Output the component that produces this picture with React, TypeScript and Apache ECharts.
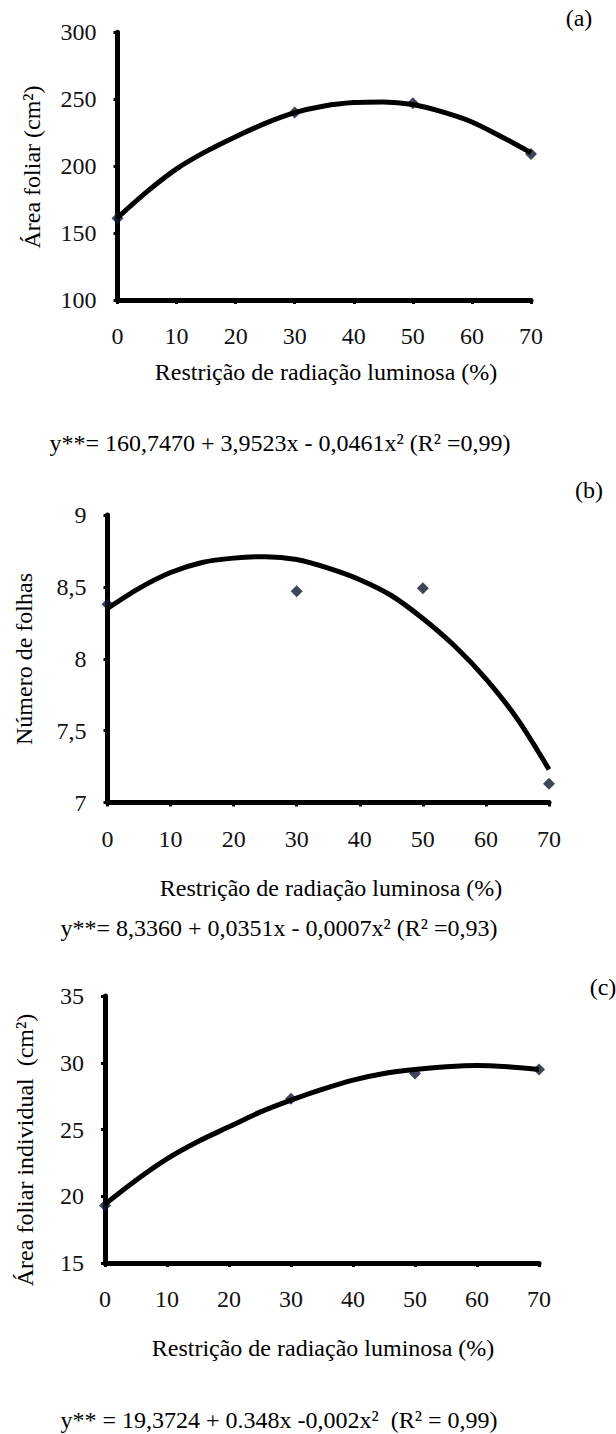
import React, { useEffect, useRef } from "react";
import * as echarts from "echarts";

// ---- data ----
const doses = [0, 30, 50, 70];
const fitX = [0, 5, 10, 15, 20, 25, 30, 35, 40, 45, 50, 55, 60, 65, 70];

// (a) leaf area (cm2)
const areaFoliar = [161, 240, 247, 209];
const fitAreaFoliar = [161.5, 181, 198, 211, 222, 232, 240, 245, 247.5, 248, 246, 240.5, 233, 222, 210];

// (b) number of leaves
const numeroFolhas = [8.38, 8.47, 8.49, 7.13];
const fitNumeroFolhas = [8.35, 8.49, 8.6, 8.67, 8.7, 8.71, 8.69, 8.63, 8.55, 8.44, 8.28, 8.09, 7.86, 7.58, 7.23];

// (c) individual leaf area (cm2)
const areaIndividual = [19.3, 27.3, 29.2, 29.5];
const fitAreaIndividual = [19.4, 21.2, 22.8, 24.1, 25.2, 26.3, 27.2, 28.0, 28.7, 29.2, 29.5, 29.7, 29.8, 29.7, 29.5];

const panelLabels = ["(a)", "(b)", "(c)"];
const yTitles = ["Área foliar (cm²)", "Número de folhas", "Área foliar individual  (cm²)"];
const xTitle = "Restrição de radiação luminosa (%)";
const equations = [
  "y**= 160,7470 + 3,9523x - 0,0461x² (R² =0,99)",
  "y**= 8,3360 + 0,0351x - 0,0007x² (R² =0,93)",
  "y** = 19,3724 + 0.348x -0,002x²  (R² = 0,99)",
];

const FONT = "'Liberation Serif', 'Times New Roman', serif";
const FS = 24;
const MARK = "#10182e";

const grids = [
  { left: 117.5, top: 32.3, width: 413.5, height: 267.7 },
  { left: 107.5, top: 515, width: 441.5, height: 287.5 },
  { left: 105, top: 996, width: 434, height: 267 },
];

const yRanges = [
  { min: 100, max: 300, interval: 50 },
  { min: 7, max: 9, interval: 0.5 },
  { min: 15, max: 35, interval: 5 },
];

export default function App() {
  const ref = useRef<HTMLDivElement>(null);

  useEffect(() => {
    if (!ref.current) return;
    const chart = echarts.init(ref.current, undefined, { renderer: "svg" });

    const axisLine = { show: true, onZero: false, lineStyle: { color: "#000", width: 5 } };
    const axisTick = { show: true, length: 4, lineStyle: { color: "#000", width: 3 } };
    const labelStyle = { color: "#111", fontFamily: FONT, fontSize: FS };

    const xAxis = grids.map((_, i) => ({
      type: "value",
      gridIndex: i,
      min: 0,
      max: 70,
      interval: 10,
      axisLine,
      axisTick,
      splitLine: { show: false },
      axisLabel: { ...labelStyle, margin: 24 },
    }));

    const yAxis = grids.map((_, i) => ({
      type: "value",
      gridIndex: i,
      min: yRanges[i].min,
      max: yRanges[i].max,
      interval: yRanges[i].interval,
      axisLine,
      axisTick,
      splitLine: { show: false },
      axisLabel: {
        ...labelStyle,
        margin: 21,
        formatter: (v: number) => String(v).replace(".", ","),
      },
    }));

    const pointSets = [areaFoliar, numeroFolhas, areaIndividual];
    const fitSets = [fitAreaFoliar, fitNumeroFolhas, fitAreaIndividual];

    const series: any[] = [];
    pointSets.forEach((pts, i) => {
      series.push({
        type: "scatter",
        xAxisIndex: i,
        yAxisIndex: i,
        symbol: "diamond",
        symbolSize: 12,
        itemStyle: { color: MARK },
        data: doses.map((d, k) => [d, pts[k]]),
        z: 2,
      });
      series.push({
        type: "line",
        xAxisIndex: i,
        yAxisIndex: i,
        smooth: 0.3,
        showSymbol: false,
        symbol: "none",
        lineStyle: { color: "#000", width: 5, cap: "butt", join: "round" },
        data: fitX.map((x, k) => [x, fitSets[i][k]]),
        z: 3,
      });
    });

    const textStyle = (text: string) => ({
      text,
      font: `${FS}px ${FONT}`,
      fill: "#000",
      textAlign: "center",
      textVerticalAlign: "middle",
    });

    const panelPos = [
      { x: 579, y: 18 },
      { x: 589, y: 490 },
      { x: 603, y: 987 },
    ];
    const yTitlePos = [
      { x: 32, y: 167 },
      { x: 24, y: 659 },
      { x: 25, y: 1150 },
    ];
    const xTitlePos = [
      { x: 326, y: 372 },
      { x: 331, y: 888 },
      { x: 323, y: 1348 },
    ];
    const eqPos = [
      { x: 280, y: 443 },
      { x: 279, y: 928 },
      { x: 279, y: 1420 },
    ];

    const graphic: any[] = [];
    for (let i = 0; i < 3; i++) {
      graphic.push({ type: "text", x: panelPos[i].x, y: panelPos[i].y, style: textStyle(panelLabels[i]) });
      graphic.push({
        type: "text",
        x: yTitlePos[i].x,
        y: yTitlePos[i].y,
        rotation: Math.PI / 2,
        style: textStyle(yTitles[i]),
      });
      graphic.push({ type: "text", x: xTitlePos[i].x, y: xTitlePos[i].y, style: textStyle(xTitle) });
      graphic.push({ type: "text", x: eqPos[i].x, y: eqPos[i].y, style: textStyle(equations[i]) });
    }

    chart.setOption({
      animation: false,
      backgroundColor: "#fff",
      grid: grids.map((g) => ({ ...g, containLabel: false })),
      xAxis,
      yAxis,
      series,
      graphic,
    });

    return () => chart.dispose();
  }, []);

  return (
    <div
      ref={ref}
      style={{ position: "absolute", left: 0, top: 0, width: 616, height: 1434, background: "#fff" }}
    />
  );
}
